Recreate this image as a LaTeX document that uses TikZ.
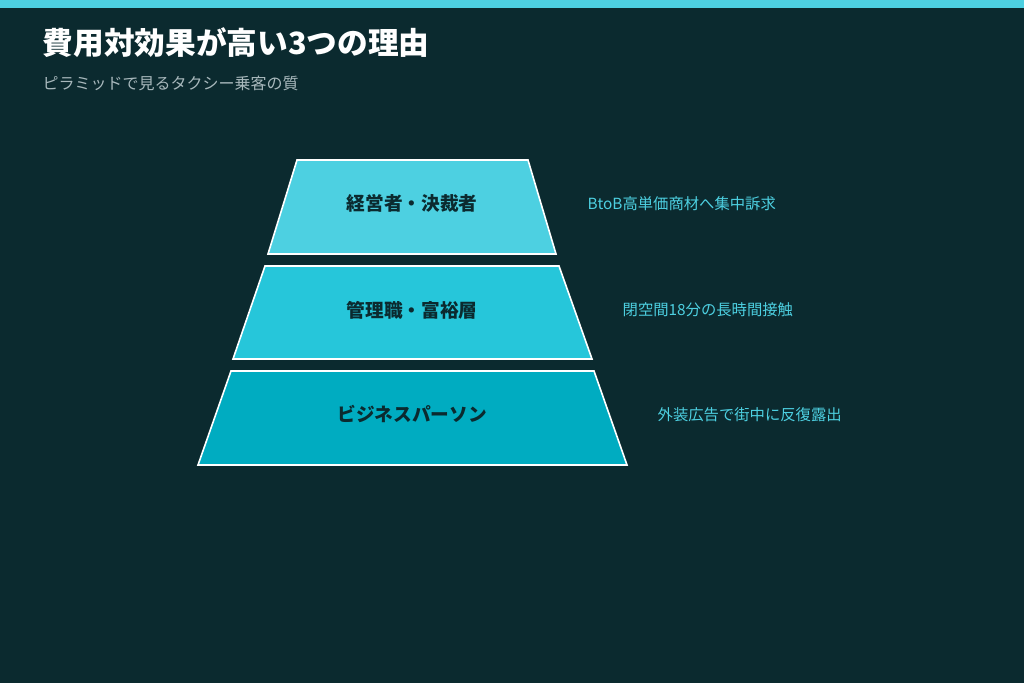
\documentclass[tikz,border=0pt]{standalone}
\usepackage{fontspec}
\setmainfont{Noto Sans CJK JP}
\definecolor{bg}{HTML}{0B2A2F}
\definecolor{c1}{HTML}{4DD0E1}
\definecolor{c2}{HTML}{26C6DA}
\definecolor{c3}{HTML}{00ACC1}
\definecolor{sub}{HTML}{A8B8BC}
\begin{document}
\begin{tikzpicture}[x=0.75pt,y=-0.75pt,
  tier/.style={draw=white,line width=1.2pt},
  lbl/.style={font=\fontsize{14}{16}\selectfont\bfseries,text=bg},
  note/.style={anchor=west,font=\fontsize{11.5}{14}\selectfont,text=c1}]
\fill[bg] (0,0) rectangle (1024,683);
\useasboundingbox (0,0) rectangle (1024,683);
\fill[c1] (0,0) rectangle (1024,8);
\node[anchor=west,text=white,font=\fontsize{23}{26}\selectfont\bfseries] (title) at (38,43) {費用対効果が高い3つの理由};
\node[anchor=west,text=sub,font=\fontsize{12}{14}\selectfont] (subtitle) at (38,83) {ピラミッドで見るタクシー乗客の質};
\filldraw[tier,fill=c1] (297,160) -- (528,160) -- (556,254) -- (268,254) -- cycle;
\filldraw[tier,fill=c2] (265,266) -- (559,266) -- (592,359) -- (233,359) -- cycle;
\filldraw[tier,fill=c3] (231,371) -- (594,371) -- (627,465) -- (198,465) -- cycle;
\node[lbl] (t1) at (412,203) {経営者・決裁者};
\node[lbl] (t2) at (412,310) {管理職・富裕層};
\node[lbl] (t3) at (412,414) {ビジネスパーソン};
\node[note] (n1) at (583,204) {BtoB高単価商材へ集中訴求};
\node[note] (n2) at (618,310) {閉空間18分の長時間接触};
\node[note] (n3) at (653,415) {外装広告で街中に反復露出};
\end{tikzpicture}
\end{document}
